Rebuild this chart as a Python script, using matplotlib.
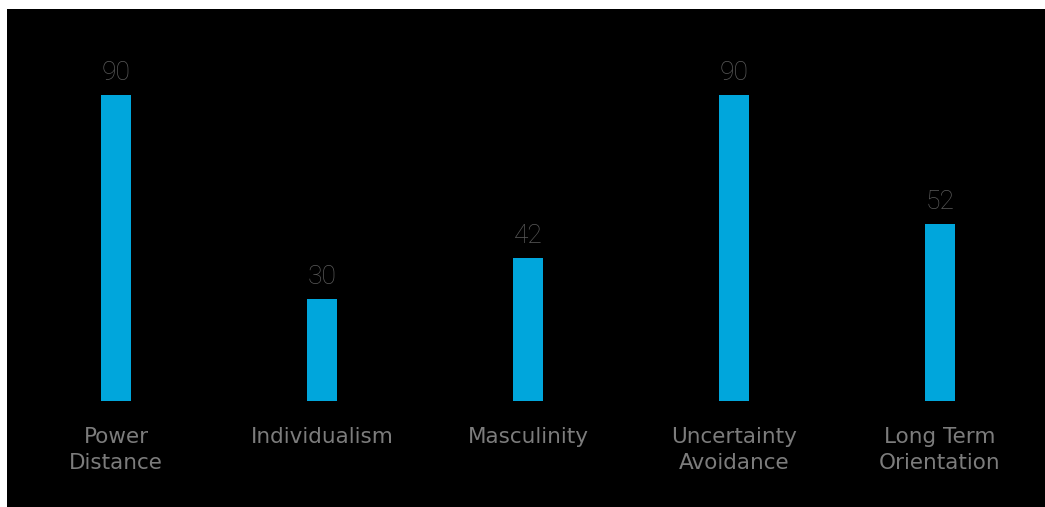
import matplotlib.pyplot as plt
from matplotlib.patches import Rectangle

categories = ["Power\nDistance", "Individualism", "Masculinity",
              "Uncertainty\nAvoidance", "Long Term\nOrientation"]
scores = [90, 30, 42, 90, 52]

W, H = 1045, 507
fig = plt.figure(figsize=(W / 100, H / 100), dpi=100, facecolor="white")

# black panel (white strip on left and top)
fig.patches.append(Rectangle((7 / W, 0), 1 - 7 / W, 1 - 9 / H,
                             transform=fig.transFigure, facecolor="black",
                             edgecolor="none", zorder=-10))

ax = fig.add_axes([13 / W, (H - 401) / H, 1030 / W, 340 / H])
ax.set_facecolor("none")

x = list(range(len(scores)))
ax.bar(x, scores, width=0.15, color="#00A6DC")

for xi, v in zip(x, scores):
    ax.annotate(str(v), (xi, v), xytext=(0, 7), textcoords="offset points",
                ha="center", va="bottom", color="#5a5a5a", fontsize=19,
                family="Roboto", fontweight="light")

ax.set_xlim(-0.5, 4.5)
ax.set_ylim(0, 100)
ax.set_xticks(x)
ax.set_xticklabels(categories, color="#7c7c7c", fontsize=15.5,
                   family="DejaVu Sans", linespacing=1.4)
ax.tick_params(axis="x", length=0, pad=18.5)
ax.set_yticks([])
for s in ax.spines.values():
    s.set_visible(False)

fig.savefig("out.png", dpi=100, facecolor="white")
